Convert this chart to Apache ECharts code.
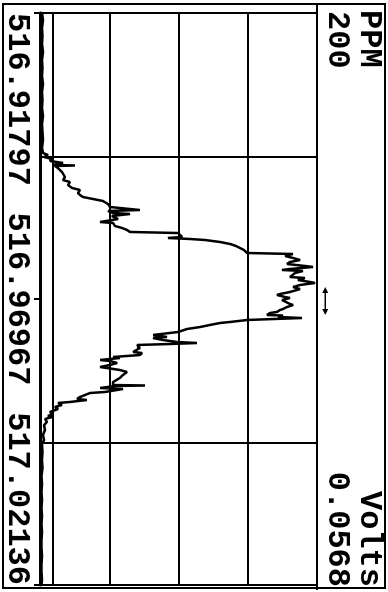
<!DOCTYPE html>
<html>
<head>
<meta charset="utf-8">
<script src="https://cdn.jsdelivr.net/npm/echarts@6/dist/echarts.min.js"></script>
<style>
  html, body { margin: 0; padding: 0; overflow: hidden; background: #fff; width: 388px; height: 592px; }
  /* The plot is laid out landscape and turned a quarter clockwise onto the portrait page. */
  #plot { position: absolute; left: 0; top: 0; width: 592px; height: 388px;
          transform-origin: 0 0; transform: translate(388px, 0) rotate(90deg); }
</style>
</head>
<body>
<div id="plot"></div>
<script>
// Scan: wavelength (nm) against concentration (PPM)
const wavelength = [
  516.91797, 516.91924, 516.92068, 516.92213, 516.92357, 516.92502, 516.92647, 516.92791,
  516.92936, 516.93080, 516.93225, 516.93370, 516.93514, 516.93659, 516.93803, 516.93948,
  516.94093, 516.94237, 516.94328, 516.94364, 516.94400, 516.94436, 516.94472, 516.94508,
  516.94544, 516.94553, 516.94563, 516.94599, 516.94635, 516.94671, 516.94707, 516.94761,
  516.94816, 516.94852, 516.94906, 516.94960, 516.94996, 516.95051, 516.95087, 516.95123,
  516.95159, 516.95195, 516.95249, 516.95304, 516.95358, 516.95376, 516.95412, 516.95430,
  516.95466, 516.95521, 516.95575, 516.95593, 516.95647, 516.95683, 516.95719, 516.95755,
  516.95774, 516.95810, 516.95846, 516.95864, 516.95882, 516.95900, 516.95936, 516.95972,
  516.96009, 516.96045, 516.96081, 516.96135, 516.96153, 516.96189, 516.96225, 516.96262,
  516.96298, 516.96334, 516.96370, 516.96388, 516.96424, 516.96442, 516.96460, 516.96497,
  516.96533, 516.96569, 516.96587, 516.96623, 516.96659, 516.96677, 516.96713, 516.96750,
  516.96786, 516.96804, 516.96840, 516.96876, 516.96894, 516.96930, 516.96948, 516.96985,
  516.97021, 516.97057, 516.97075, 516.97111, 516.97147, 516.97165, 516.97201, 516.97220,
  516.97256, 516.97265, 516.97292, 516.97310, 516.97328, 516.97346, 516.97382, 516.97400,
  516.97436, 516.97473, 516.97509, 516.97563, 516.97581, 516.97617, 516.97653, 516.97671,
  516.97708, 516.97744, 516.97762, 516.97780, 516.97798, 516.97852, 516.97924, 516.97943,
  516.97979, 516.98015, 516.98033, 516.98069, 516.98087, 516.98123, 516.98159, 516.98196,
  516.98214, 516.98250, 516.98286, 516.98340, 516.98394, 516.98467, 516.98521, 516.98530,
  516.98539, 516.98575, 516.98593, 516.98647, 516.98666, 516.98702, 516.98738, 516.98774,
  516.98792, 516.98828, 516.98846, 516.98882, 516.98919, 516.98955, 516.99009, 516.99045,
  516.99081, 516.99099, 516.99136, 516.99190, 516.99244, 516.99334, 516.99425, 516.99515,
  516.99587, 516.99732, 516.99877, 517.00021, 517.00166, 517.00310, 517.00455, 517.00600,
  517.00744, 517.00889, 517.01033, 517.01178, 517.01323, 517.01467, 517.01612, 517.01756,
  517.01901, 517.02046, 517.02136
];
const ppm = [
  0.7, 1.4, 0.7, 1.1, 0.7, 1.4, 0.7, 1.1,
  0.7, 1.4, 0.7, 1.1, 0.7, 1.4, 0.7, 1.1,
  1.4, 0.7, 1.4, 5.1, 2.2, 8.0, 6.5, 15.9,
  8.7, 24.6, 10.1, 12.3, 12.3, 15.2, 13.8, 17.4,
  15.9, 21.0, 19.6, 22.5, 28.3, 26.8, 28.3, 30.4,
  31.2, 44.9, 48.5, 50.0, 71.7, 48.5, 52.2, 64.5,
  51.4, 55.8, 42.8, 52.2, 53.6, 58.7, 62.3, 64.5,
  99.3, 100.7, 102.2, 92.0, 108.0, 118.8, 129.7, 137.0,
  141.3, 144.2, 147.1, 149.3, 182.6, 176.8, 182.6, 187.7,
  180.4, 178.3, 191.3, 197.1, 180.4, 174.6, 189.8, 184.1,
  185.5, 180.4, 191.3, 186.2, 194.9, 198.6, 187.7, 182.6,
  187.7, 185.5, 180.4, 173.2, 171.0, 176.8, 180.4, 174.6,
  173.2, 180.4, 182.6, 178.3, 175.4, 173.2, 171.0, 165.9,
  163.8, 175.4, 171.7, 189.1, 187.7, 149.3, 137.0, 129.7,
  122.5, 115.2, 105.8, 99.3, 100.7, 81.2, 91.3, 81.2,
  88.4, 98.6, 113.0, 93.5, 69.6, 71.7, 66.7, 73.2,
  71.7, 52.2, 57.2, 42.8, 50.0, 55.1, 50.0, 42.8,
  47.8, 57.2, 62.3, 59.4, 57.2, 52.2, 52.2, 75.4,
  53.6, 42.8, 59.4, 46.4, 35.5, 31.9, 28.3, 26.1,
  33.3, 21.0, 12.3, 15.2, 10.1, 12.3, 6.5, 8.7,
  5.1, 8.0, 2.9, 4.3, 2.2, 2.9, 1.4, 2.2,
  0.7, 1.1, 0.7, 1.1, 0.4, 0.7, 0.4, 0.7,
  0.4, 0.7, 0.4, 0.7, 0.4, 0.4, 0.7, 0.4,
  0.4, 0.7, 0.4
];

// Axis scales, tick labels and markers
const wavelengthTicks = [516.91797, 516.96967, 517.02136];
const windowBounds = [516.94400, 516.99569];   // integration window edges (nm)
const ppmRange = [0, 200];
const ppmStep = 50;
const referenceLevel = 8.7;                     // PPM reference line
const peakWindow = [516.96750, 516.97256];      // peak marker span (nm)
const peakWindowLevel = 206;                    // drawn just past full scale
const leftScaleText = ['PPM', '200'];
const rightScaleText = ['Volts', '0.0568'];

const ink = '#000';
const font = { fontFamily: '"Liberation Mono", "DejaVu Sans Mono", monospace', fontWeight: 'bold', fontSize: 32 };

const chart = echarts.init(document.getElementById('plot'), null, { renderer: 'canvas' });

chart.setOption({
  animation: false,
  backgroundColor: '#fff',
  grid: { left: 13, right: 7, top: 71, bottom: 41, containLabel: false,
          show: true, borderColor: ink, borderWidth: 2, backgroundColor: 'transparent' },
  xAxis: {
    type: 'value',
    position: 'bottom',
    min: wavelengthTicks[0],
    max: wavelengthTicks[wavelengthTicks.length - 1],
    axisLine: { show: true, lineStyle: { color: ink, width: 3 } },
    axisTick: { show: true, customValues: wavelengthTicks, length: 7, lineStyle: { color: ink, width: 2 } },
    splitLine: { show: false },
    axisLabel: {
      customValues: wavelengthTicks,
      formatter: v => v.toFixed(5),
      color: ink,
      margin: 8,
      alignMinLabel: 'left',
      alignMaxLabel: 'right',
      ...font
    }
  },
  yAxis: {
    type: 'value',
    min: ppmRange[0],
    max: ppmRange[1],
    interval: ppmStep,
    axisLine: { show: false },
    axisTick: { show: false },
    axisLabel: { show: false },
    splitLine: { show: true, lineStyle: { color: ink, width: 2, type: 'solid' } }
  },
  series: [
    {
      type: 'line',
      name: 'PPM',
      data: wavelength.map((w, i) => [w, ppm[i]]),
      showSymbol: false,
      clip: false,
      lineStyle: { color: ink, width: 2.5 },
      z: 5,
      markLine: {
        silent: true,
        precision: 5,
        symbol: ['none', 'none'],
        label: { show: false },
        lineStyle: { color: ink, width: 2, type: 'solid' },
        data: [
          { yAxis: referenceLevel },
          { xAxis: windowBounds[0] },
          { xAxis: windowBounds[1] }
        ]
      }
    }
  ]
});

// Frame, full-scale separator, peak marker and full-scale captions
const W = chart.getWidth(), H = chart.getHeight();
const topY = chart.convertToPixel({ yAxisIndex: 0 }, ppmRange[1]);
const a = chart.convertToPixel({ xAxisIndex: 0, yAxisIndex: 0 }, [peakWindow[0], peakWindowLevel]);
const b = chart.convertToPixel({ xAxisIndex: 0, yAxisIndex: 0 }, [peakWindow[1], peakWindowLevel]);
const head = 6, half = 3;
const caption = (text, x, y, align) => ({
  type: 'text',
  silent: true,
  style: { text, x, y, align, verticalAlign: 'middle', fill: ink, ...font }
});
chart.setOption({
  graphic: [
    { type: 'rect', silent: true, shape: { x: 4, y: 3, width: W - 8, height: H - 6 },
      style: { fill: 'none', stroke: ink, lineWidth: 2 } },
    { type: 'line', silent: true, shape: { x1: 4, y1: topY, x2: W - 2, y2: topY },
      style: { stroke: ink, lineWidth: 2 } },
    { type: 'line', silent: true, shape: { x1: a[0] + head, y1: a[1], x2: b[0] - head, y2: b[1] },
      style: { stroke: ink, lineWidth: 1.5 } },
    { type: 'polygon', silent: true,
      shape: { points: [[a[0], a[1]], [a[0] + head, a[1] - half], [a[0] + head, a[1] + half]] },
      style: { fill: ink } },
    { type: 'polygon', silent: true,
      shape: { points: [[b[0], b[1]], [b[0] - head, b[1] - half], [b[0] - head, b[1] + half]] },
      style: { fill: ink } },
    caption(leftScaleText[0], 10, 19, 'left'),
    caption(leftScaleText[1], 11, 51, 'left'),
    caption(rightScaleText[0], W - 5, 19, 'right'),
    caption(rightScaleText[1], W - 5, 51, 'right')
  ]
});
</script>
</body>
</html>
